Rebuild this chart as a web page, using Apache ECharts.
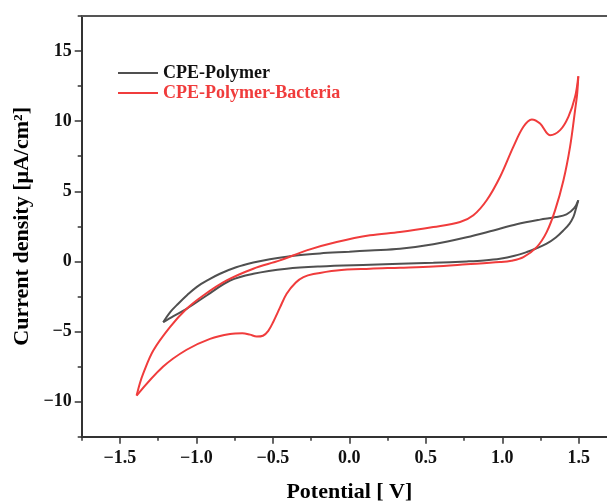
<!DOCTYPE html>
<html>
<head>
<meta charset="utf-8">
<script src="https://cdn.jsdelivr.net/npm/echarts@6/dist/echarts.min.js"></script>
<style>html,body{margin:0;padding:0;background:#fff}#c{width:607px;height:502px}</style>
</head>
<body>
<div id="c"></div>
<script>
// ---- data ----
const seriesNames = ['CPE-Polymer', 'CPE-Polymer-Bacteria'];
const xTickValues = [-1.5, -1.0, -0.5, 0.0, 0.5, 1.0, 1.5];
const yTickValues = [-10, -5, 0, 5, 10, 15];

// CPE-Polymer: forward sweep (-1.2 V -> 1.5 V)
const polymerForward = [
  [-1.217,-4.34],[-1.17,-3.6],[-1.119,-3.02],[-1.06,-2.4],[-0.999,-1.83],[-0.92,-1.3],
  [-0.846,-0.88],[-0.74,-0.42],[-0.628,-0.08],[-0.52,0.16],[-0.41,0.34],[-0.3,0.47],
  [-0.192,0.57],[0.0,0.69],[0.135,0.78],[0.331,0.9],[0.549,1.22],[0.767,1.72],
  [0.942,2.21],[1.094,2.65],[1.247,2.98],[1.35,3.16],[1.42,3.36],[1.47,3.8],[1.497,4.36]
];
// CPE-Polymer: reverse sweep (1.5 V -> -1.2 V)
const polymerReverse = [
  [1.497,4.36],[1.48,3.7],[1.465,3.17],[1.44,2.7],[1.4,2.21],[1.35,1.7],[1.29,1.26],
  [1.22,0.92],[1.16,0.67],[1.08,0.4],[0.985,0.19],[0.88,0.07],[0.767,0.0],[0.549,-0.1],
  [0.331,-0.17],[0.135,-0.24],[-0.192,-0.36],[-0.41,-0.52],[-0.628,-0.88],[-0.78,-1.36],
  [-0.933,-2.43],[-1.064,-3.38],[-1.15,-3.9],[-1.217,-4.34]
];
// CPE-Polymer-Bacteria: forward sweep (-1.4 V -> 1.5 V)
const bacteriaForward = [
  [-1.391,-9.57],[-1.37,-8.7],[-1.348,-8.0],[-1.282,-6.36],[-1.173,-4.69],[-1.064,-3.38],
  [-0.955,-2.43],[-0.802,-1.36],[-0.628,-0.52],[-0.454,0.07],[-0.279,0.79],[-0.083,1.38],
  [0.135,1.86],[0.331,2.09],[0.549,2.45],[0.724,2.81],[0.811,3.29],[0.898,4.36],
  [0.985,6.02],[1.072,8.17],[1.138,9.6],[1.193,10.12],[1.247,9.83],[1.312,9.0],
  [1.378,9.36],[1.432,10.31],[1.476,11.74],[1.497,13.2]
];
// CPE-Polymer-Bacteria: reverse sweep (1.5 V -> -1.4 V)
const bacteriaReverse = [
  [1.497,13.2],[1.49,12.0],[1.476,10.79],[1.443,8.17],[1.4,5.79],[1.345,3.64],[1.29,2.09],
  [1.225,1.02],[1.138,0.31],[1.06,0.05],[0.985,-0.05],[0.767,-0.21],[0.549,-0.36],
  [0.331,-0.45],[0.135,-0.52],[-0.083,-0.64],[-0.235,-0.9],[-0.3,-1.12],[-0.35,-1.5],
  [-0.41,-2.3],[-0.454,-3.3],[-0.497,-4.3],[-0.53,-4.95],[-0.565,-5.3],[-0.606,-5.36],
  [-0.65,-5.22],[-0.7,-5.12],[-0.78,-5.17],[-0.911,-5.52],[-1.064,-6.3],[-1.217,-7.5],
  [-1.391,-9.57]
];

// ---- styling / layout ----
const FONT = 'Liberation Serif';
const AX = '#333';
const C_POLY = '#505050';
const C_BACT = '#f03c3c';
const minus = v => String(v).replace('-', '\u2212');

const chart = echarts.init(document.getElementById('c'), null, {renderer: 'canvas'});

const axisLineStyle = {show: true, onZero: false, lineStyle: {color: AX, width: 2}};
const hidden = {type: 'value', show: false};
const gridBase = {outerBoundsMode: 'none', containLabel: false};

const option = {
  animation: false,
  backgroundColor: '#fff',
  grid: [
    Object.assign({left: 81.7, width: 535.3, top: 16, height: 420.7}, gridBase),
    Object.assign({left: 119.94, width: 458.82, top: 16, height: 420.7}, gridBase),
    Object.assign({left: 81.7, width: 535.3, top: 51.06, height: 350.58}, gridBase)
  ],
  legend: [
    {
      data: [{name: seriesNames[0], textStyle: {color: '#111'}}],
      left: 118, top: 64, padding: 0, icon: 'rect', itemWidth: 40, itemHeight: 2,
      textStyle: {fontFamily: FONT, fontWeight: 'bold', fontSize: 18}
    },
    {
      data: [{name: seriesNames[1], textStyle: {color: C_BACT}}],
      left: 118, top: 84, padding: 0, icon: 'rect', itemWidth: 40, itemHeight: 2,
      textStyle: {fontFamily: FONT, fontWeight: 'bold', fontSize: 18}
    }
  ],
  xAxis: [
    {
      type: 'value', gridIndex: 0, position: 'bottom', min: -1.75, max: 1.75, interval: 0.25,
      axisLine: axisLineStyle,
      axisTick: {show: true, length: 4, lineStyle: {color: AX, width: 1.5}},
      axisLabel: {show: false}, splitLine: {show: false},
      name: 'Potential [ V]', nameLocation: 'middle', nameGap: 45,
      nameTextStyle: {fontFamily: FONT, fontWeight: 'bold', fontSize: 22, color: '#000'}
    },
    {
      type: 'value', gridIndex: 1, position: 'bottom',
      min: xTickValues[0], max: xTickValues[xTickValues.length - 1], interval: 0.5,
      axisLine: {show: false, onZero: false},
      axisTick: {show: true, length: 7, lineStyle: {color: AX, width: 1.5}},
      axisLabel: {margin: 13, fontFamily: FONT, fontWeight: 'bold', fontSize: 18, color: '#111',
        formatter: v => minus(v.toFixed(1))},
      splitLine: {show: false}
    },
    Object.assign({gridIndex: 2}, hidden),
    {
      type: 'value', gridIndex: 0, position: 'top', min: -1.75, max: 1.75,
      axisLine: {show: true, onZero: false, lineStyle: {color: '#555', width: 2}},
      axisTick: {show: false}, axisLabel: {show: false}, splitLine: {show: false}
    }
  ],
  yAxis: [
    {
      type: 'value', gridIndex: 0, position: 'left', min: -12.5, max: 17.5, interval: 2.5,
      axisLine: axisLineStyle,
      axisTick: {show: true, length: 4, lineStyle: {color: AX, width: 1.5}},
      axisLabel: {show: false}, splitLine: {show: false},
      name: 'Current density [μA/cm²]', nameLocation: 'middle', nameGap: 48,
      nameTextStyle: {fontFamily: FONT, fontWeight: 'bold', fontSize: 22, color: '#000'}
    },
    Object.assign({gridIndex: 1}, hidden),
    {
      type: 'value', gridIndex: 2, position: 'left',
      min: yTickValues[0], max: yTickValues[yTickValues.length - 1], interval: 5,
      axisLine: {show: false, onZero: false},
      axisTick: {show: true, length: 7, lineStyle: {color: AX, width: 1.5}},
      axisLabel: {margin: 10, fontFamily: FONT, fontWeight: 'bold', fontSize: 18, color: '#111',
        formatter: v => minus(v)},
      splitLine: {show: false}
    }
  ],
  series: [
    {name: seriesNames[0], data: polymerForward, color: C_POLY},
    {name: seriesNames[0], data: polymerReverse, color: C_POLY},
    {name: seriesNames[1], data: bacteriaForward, color: C_BACT},
    {name: seriesNames[1], data: bacteriaReverse, color: C_BACT}
  ].map(s => Object.assign({
    type: 'line', xAxisIndex: 0, yAxisIndex: 0, showSymbol: false, symbol: 'none',
    smooth: 0.35, lineStyle: {width: 2, color: s.color}, itemStyle: {color: s.color},
    emphasis: {disabled: true}
  }, s))
};
chart.setOption(option);
</script>
</body>
</html>
